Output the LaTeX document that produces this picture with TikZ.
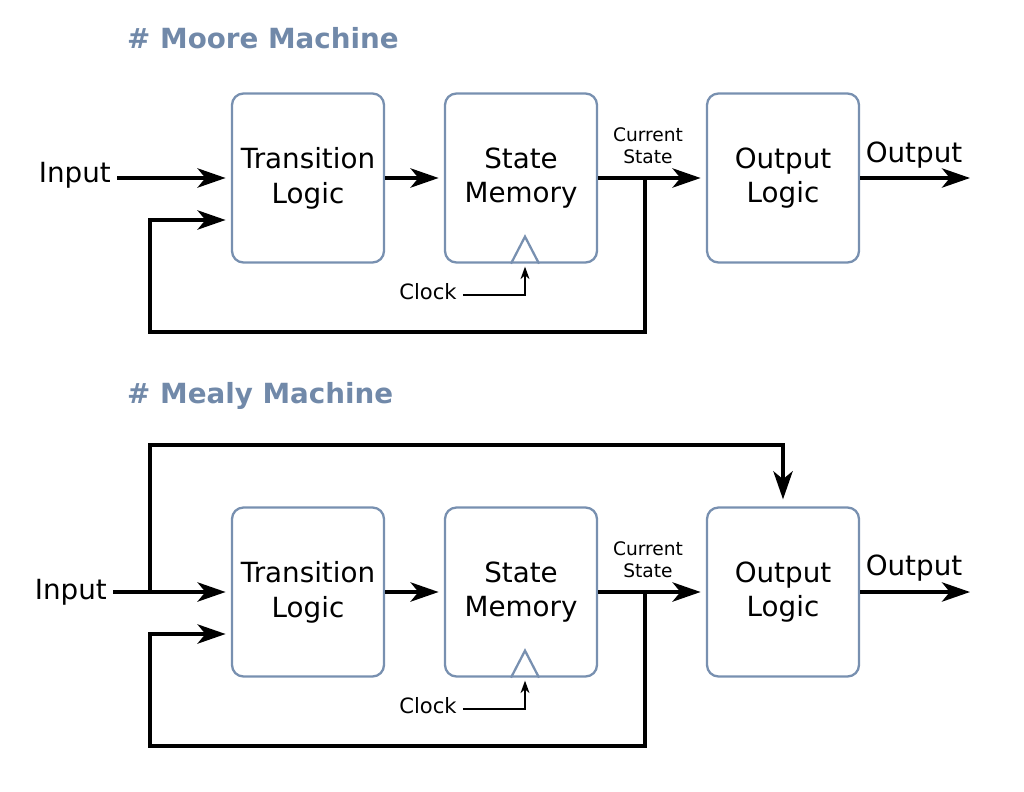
\documentclass[tikz,border=0pt]{standalone}
\usepackage{fontspec}
\setmainfont{DejaVu Sans}
\usetikzlibrary{arrows.meta, calc}
\definecolor{slate}{HTML}{7189A9}
\definecolor{boxline}{HTML}{7890B0}

\begin{document}
\begin{tikzpicture}
    [
        x=0.02cm, y=-0.02cm,
        blk/.style={draw=boxline, line width=1.3pt, rounded corners=6.5pt,
            minimum width=3.04cm, minimum height=3.38cm, align=center,
            font=\fontsize{15.8}{19.8}\selectfont},
        heading/.style={anchor=west, text=slate, font=\fontsize{15.8}{19}\selectfont\bfseries},
        lbl/.style={font=\fontsize{15.8}{19}\selectfont},
        small/.style={align=center, font=\fontsize{10.6}{12.5}\selectfont},
        wire/.style={line width=2pt, -{Stealth[length=16pt, width=11pt, inset=4.5pt]}, shorten >=3pt},
        tick/.style={line width=1.2pt, -{Stealth[length=7pt, width=5pt, inset=2pt]}}
    ]
    \useasboundingbox (0,0) rectangle (1024,791);

    % Moore machine
    \node[heading] (t1) at (121,38) {\# Moore Machine};
    \node[blk] (tl1) at (308,178) {Transition\\Logic};
    \node[blk] (sm1) at (521,178) {State\\Memory};
    \node[blk] (ol1) at (783,178) {Output\\Logic};
    \node[lbl, anchor=east] (in1) at (117,175) {Input};
    \node[lbl] (out1) at (914,155) {Output};
    \node[small] (cs1) at (648,146) {Current\\State};
    \node[small, font=\fontsize{12}{14}\selectfont] (ck1) at (428,292) {Clock};
    \coordinate (end1) at (970,178);
    \coordinate (br1) at (645,178);
    \coordinate (fb1) at (150,332);
    \coordinate (tlin1) at ($(tl1.west)+(0,42)$);
    \coordinate (clk1) at ($(sm1.south)+(4,0)$);

    \draw[wire] (in1.east |- tl1.west) -- (tl1.west);
    \draw[wire] (tl1) -- (sm1);
    \draw[wire] (sm1) -- (ol1);
    \draw[wire, shorten >=0pt] (ol1) -- (end1);
    \draw[wire] (br1) -- (br1 |- fb1) -- (fb1) -- (fb1 |- tlin1) -- (tlin1);
    \draw[draw=boxline, line width=1.3pt] ($(clk1)+(-14,0)$) -- ++(14,-27) -- ++(14,27);
    \draw[tick] (ck1.east |- 0,295) -| ($(clk1)+(0,3)$);

    % Mealy machine
    \node[heading] (t2) at (121,396) {\# Mealy Machine};
    \node[blk] (tl2) at (308,592) {Transition\\Logic};
    \node[blk] (sm2) at (521,592) {State\\Memory};
    \node[blk] (ol2) at (783,592) {Output\\Logic};
    \node[lbl, anchor=east] (in2) at (113,592) {Input};
    \node[lbl] (out2) at (914,568) {Output};
    \node[small] (cs2) at (648,560) {Current\\State};
    \node[small, font=\fontsize{12}{14}\selectfont] (ck2) at (428,706) {Clock};
    \coordinate (end2) at (970,592);
    \coordinate (br2) at (645,592);
    \coordinate (fb2) at (150,746);
    \coordinate (sp2) at (150,592);
    \coordinate (top2) at (150,445);
    \coordinate (tlin2) at ($(tl2.west)+(0,42)$);
    \coordinate (clk2) at ($(sm2.south)+(4,0)$);

    \draw[wire] (in2.east) -- (tl2.west);
    \draw[wire, shorten >=4pt] (sp2) -- (top2) -| (ol2.north);
    \draw[wire] (tl2) -- (sm2);
    \draw[wire] (sm2) -- (ol2);
    \draw[wire, shorten >=0pt] (ol2) -- (end2);
    \draw[wire] (br2) -- (br2 |- fb2) -- (fb2) -- (fb2 |- tlin2) -- (tlin2);
    \draw[draw=boxline, line width=1.3pt] ($(clk2)+(-14,0)$) -- ++(14,-27) -- ++(14,27);
    \draw[tick] (ck2.east |- 0,709) -| ($(clk2)+(0,3)$);
\end{tikzpicture}
\end{document}
